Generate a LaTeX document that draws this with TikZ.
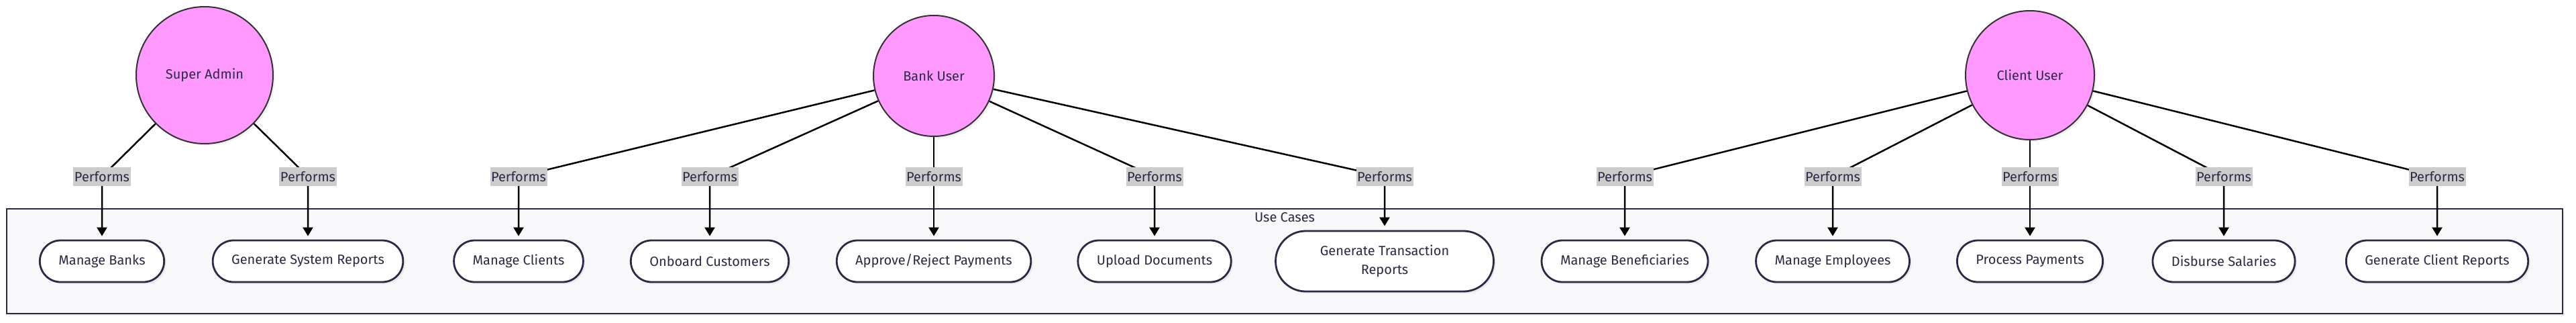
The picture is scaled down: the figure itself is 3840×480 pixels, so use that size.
\documentclass[tikz,border=0pt]{standalone}
\usepackage{fontspec}
\setmainfont{Fira Sans}
\usetikzlibrary{arrows.meta}
\usetikzlibrary{shadows}
\definecolor{actorpink}{HTML}{FF99FF}
\definecolor{inkblue}{HTML}{2A2A45}
\definecolor{boxfill}{HTML}{F8F8FA}
\definecolor{labgray}{HTML}{CCCCCC}
\pgfdeclarelayer{back}
\pgfdeclarelayer{lines}
\pgfsetlayers{back,lines,main}

\begin{document}
\begin{tikzpicture}[x=1pt,y=-1pt,
    soft/.style={drop shadow={shadow xshift=3pt,shadow yshift=-3pt,opacity=0.12}},
    actor/.style={circle,draw=black!80,line width=2pt,fill=actorpink,text=inkblue,font=\fontsize{20}{24}\selectfont,soft},
    usecase/.style={rectangle,rounded corners=31pt,draw=inkblue,line width=2.8pt,fill=white,minimum height=62pt,inner xsep=28pt,text=inkblue,font=\fontsize{20}{28}\selectfont,soft},
    performs/.style={fill=labgray,text=inkblue,inner xsep=1.5pt,inner ysep=0pt,minimum height=28pt,font=\fontsize{20}{24}\selectfont},
    conn/.style={line width=2.5pt,-{Triangle[length=13pt,width=15pt]},shorten >=5pt}]
    \useasboundingbox (0,0) rectangle (3840,480);

    % 用例框
    \begin{pgfonlayer}{back}
    \draw[draw=inkblue,line width=2.8pt,fill=boxfill,soft] (10,311) rectangle (3820,467);
    \end{pgfonlayer}
    \node[text=inkblue,font=\fontsize{20}{24}\selectfont] (title) at (1915,324) {Use Cases};

    % 角色
    \node[actor,minimum size=204pt] (sa) at (305,112) {Super Admin};
    \node[actor,minimum size=180pt] (bu) at (1392,113) {Bank User};
    \node[actor,minimum size=192pt] (cu) at (3026,112) {Client User};

    \node[usecase] (mb) at (152,389) {Manage Banks};
    \node[usecase] (gsr) at (459,389) {Generate System Reports};
    \node[usecase] (mc) at (773,389) {Manage Clients};
    \node[usecase] (oc) at (1058,389) {Onboard Customers};
    \node[usecase] (arp) at (1392,389) {Approve/Reject Payments};
    \node[usecase] (ud) at (1721,389) {Upload Documents};
    \node[usecase,rounded corners=45pt,minimum width=325pt,minimum height=90pt,align=center] (gtr) at (2064,389) {Generate Transaction\\Reports};
    \node[usecase] (mbf) at (2422,389) {Manage Beneficiaries};
    \node[usecase] (me) at (2732,389) {Manage Employees};
    \node[usecase] (pp) at (3026,389) {Process Payments};
    \node[usecase] (ds) at (3315,389) {Disburse Salaries};
    \node[usecase] (gcr) at (3633,389) {Generate Client Reports};

    \node[performs] (p1) at (152,263) {Performs};
    \node[performs] (p2) at (459,263) {Performs};
    \node[performs] (p3) at (773,263) {Performs};
    \node[performs] (p4) at (1058,263) {Performs};
    \node[performs] (p5) at (1392,263) {Performs};
    \node[performs] (p6) at (1721,263) {Performs};
    \node[performs] (p7) at (2064,263) {Performs};
    \node[performs] (p8) at (2422,263) {Performs};
    \node[performs] (p9) at (2732,263) {Performs};
    \node[performs] (p10) at (3026,263) {Performs};
    \node[performs] (p11) at (3315,263) {Performs};
    \node[performs] (p12) at (3633,263) {Performs};

    % 连线
    \begin{pgfonlayer}{lines}
    \draw[conn] (sa) -- (p1.center) -- (mb);
    \draw[conn] (sa) -- (p2.center) -- (gsr);
    \draw[conn] (bu) -- (p3.center) -- (mc);
    \draw[conn] (bu) -- (p4.center) -- (oc);
    \draw[conn] (bu) -- (p5.center) -- (arp);
    \draw[conn] (bu) -- (p6.center) -- (ud);
    \draw[conn,shorten >=6pt] (bu) -- (p7.center) -- (gtr);
    \draw[conn] (cu) -- (p8.center) -- (mbf);
    \draw[conn] (cu) -- (p9.center) -- (me);
    \draw[conn] (cu) -- (p10.center) -- (pp);
    \draw[conn] (cu) -- (p11.center) -- (ds);
    \draw[conn] (cu) -- (p12.center) -- (gcr);
    \end{pgfonlayer}
\end{tikzpicture}
\end{document}
